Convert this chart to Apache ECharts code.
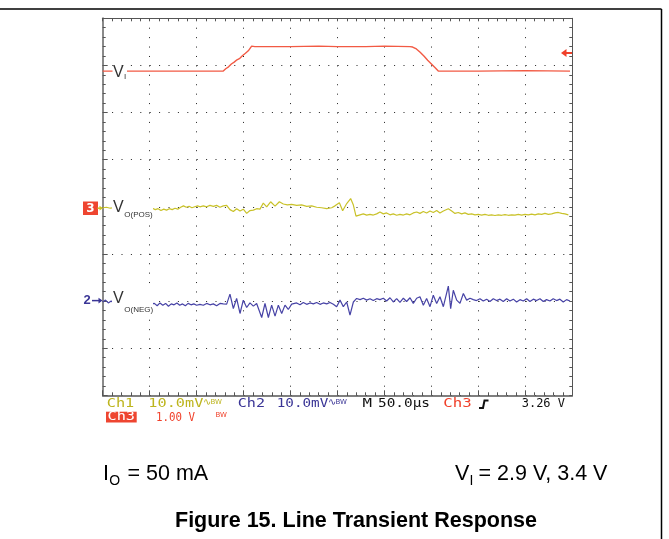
<!DOCTYPE html>
<html><head><meta charset="utf-8">
<script src="https://cdn.jsdelivr.net/npm/echarts@6/dist/echarts.min.js"></script>
<style>html,body{margin:0;padding:0;background:#fff}#c{width:669px;height:539px}</style>
</head><body><div id="c"></div>
<script>
// ---------- data (time in µs, ch3 in V, ch1/ch2 in mV) ----------
const timeRange = [0, 500];          // 10 div x 50 µs
const ch3Range = [-4, 4];            // 1.00 V/div, ground at centre
const ch1Range = [-40, 40];          // 10.0 mV/div
const ch2Range = [-20, 60];          // 10.0 mV/div, ground 2 div above bottom

const redTime  = [0, 60, 61.5, 63, 128.4, 131, 134, 137, 140, 143, 146, 149, 152, 155, 158.6, 162, 200, 230, 250, 280, 300, 327.2, 330, 334, 338, 342, 346, 350, 354, 357.3, 400, 450, 497.6];
const redVolts = [2.88, 2.88, 2.90, 2.88, 2.88, 2.93, 2.97, 3.03, 3.07, 3.12, 3.15, 3.21, 3.26, 3.31, 3.41, 3.40, 3.40, 3.41, 3.40, 3.40, 3.41, 3.40, 3.39, 3.35, 3.28, 3.20, 3.11, 3.03, 2.95, 2.88, 2.88, 2.89, 2.88];

const yellowTime = [0, 4, 8, 12, 20, 30, 40, 50, 53, 56, 59, 62, 65, 68, 71, 74, 77, 80, 83, 86, 89, 92, 95, 98, 101,
  103.6, 107.1, 110.7, 114.2, 117.8, 121.3, 124.9, 128.4, 132.0, 135.5, 139.1, 142.6, 146.2, 149.7, 153.3, 156.8, 160.4, 163.9, 167.5, 171.0, 174.6, 178.8, 183.5, 188.1, 192.3, 196.6, 201.2, 206.5, 211.8, 217.2, 222.5, 227.8, 233.1, 238.5, 243.8, 247.3, 252.0, 255.5, 259.8, 264.0, 266.9, 269.7, 274.0, 277.5, 281.1, 284.6, 288.1, 291.7, 295.2, 298.8, 302.3, 305.9, 309.4, 313.0, 316.5, 320.1, 323.6, 327.2, 330.7, 334.3, 337.8, 341.4, 344.9, 348.5, 352.0, 355.6, 359.1, 362.7, 368.0, 371.6, 375.1, 378.6, 382.2, 385.7, 389.3, 392.8, 396.4, 399.9, 403.5, 407.0, 410.6, 414.1, 417.7, 421.2, 424.8, 428.3, 431.9, 435.4, 439.0, 442.5, 446.1, 449.6, 453.2, 456.7, 460.3, 463.8, 467.4, 470.9, 474.5, 478.0, 481.6, 485.1, 488.7, 492.2, 495.8];
const yellowMv = [-0.2, -0.1, -0.3, -0.2, -0.3, -0.2, -0.35, -0.4, -0.3, -0.6, -0.4, -0.8, -0.5, -0.7, -0.4, -0.6, -0.3, -0.5, -0.1, 0.2, -0.1, 0.1, -0.2, 0.0, 0.2,
  0.0, 0.2, 0.0, 0.3, 0.1, 0.3, -0.1, 0.2, 0.3, -0.6, -1.0, -0.4, -0.9, -0.5, -1.4, -0.8, -0.7, -0.4, -0.5, 0.8, 0.0, 1.07, 0.15, 1.07, 0.6, 0.4, 0.5, 0.3, 0.4, 0.1, 0.2, -0.1, -0.2, -0.4, -0.2, 0.2, 0.86, -0.84, 0.7, 1.75, 0.36, -1.97, -1.7, -1.5, -1.76, -1.6, -1.75, -1.5, -1.1, -1.5, -1.3, -1.7, -1.5, -1.8, -1.6, -1.75, -1.5, -1.7, -1.3, -1.1, -1.4, -1.0, -1.3, -0.9, -1.2, -0.8, -1.3, -0.9, -0.4, -0.9, -1.4, -1.2, -1.5, -1.3, -1.6, -1.5, -1.7, -1.6, -1.75, -1.6, -1.8, -1.7, -1.85, -1.7, -1.8, -1.65, -1.8, -1.7, -1.75, -1.6, -1.75, -1.6, -1.7, -1.55, -1.7, -1.5, -1.6, -1.4, -1.6, -1.5, -1.3, -1.2, -1.4, -1.5, -1.7];

const blueTime = [0, 3, 6, 9, 12, 20, 28, 36, 44, 52, 55, 58, 61, 64, 67, 70, 73, 76, 79, 82, 85, 88, 91, 94, 97, 100, 103.6,
  107.1, 110.7, 114.2, 117.8, 121.3, 124.9, 128.4, 132.0, 135.5, 139.1, 142.6, 146.2, 149.7, 153.3, 156.8, 160.4, 163.9, 169.3, 172.8, 176.4, 179.9, 183.5, 187.0, 190.6, 194.1, 197.6, 201.2,
  206.5, 210.1, 213.6, 217.2, 220.7, 224.3, 227.8, 231.4, 234.9, 238.5, 242.0, 245.6, 249.1, 252.7, 256.2, 259.8, 263.3, 266.9, 270.4, 274.0, 277.5, 281.1, 284.6, 288.1, 291.7, 295.2, 298.8, 302.3, 305.9, 309.4, 313.0, 316.5, 320.1, 323.6, 327.2, 330.7, 334.3, 337.8, 341.4, 344.9, 348.5, 352.0, 355.6, 359.1, 362.7, 368.0, 370.5, 373.3, 376.9, 380.4, 384.0, 387.5, 391.1, 394.6,
  398.0, 401.7, 405.2, 408.8, 412.3, 415.9, 419.4, 423.0, 426.5, 430.1, 433.6, 437.2, 440.7, 444.3, 447.8, 451.4, 454.9, 458.5, 462.0, 465.6, 469.1, 472.6, 476.2, 479.7, 483.3, 486.8, 490.4, 493.9, 497.5];
const blueMv = [-0.2, 0.2, -0.4, 0.0, -0.5, -0.6, -0.4, -0.7, -0.5, -0.6, -0.5, -1.0, -0.4, -0.9, -0.5, -1.1, -0.6, -0.8, -0.4, -0.9, -0.6, -1.0, -0.5, -0.8, -0.6, -0.9, -0.7,
  -0.9, -0.5, -0.8, -0.6, -1.0, -0.5, -0.6, -0.66, 1.46, -1.58, 0.55, -2.64, 0.19, -1.37, -0.38, -1.08, -0.52, -3.49, -0.52, -3.49, -0.87, -3.2, -0.87, -2.64, -0.87, -1.79, -0.66,
  -0.4, -0.8, -0.3, -0.7, -0.4, -0.6, -0.3, -0.7, -0.4, -0.6, -0.3, -0.7, -1.2, 0.2, -1.2, -0.2, -3.0, -0.2, 0.55, 0.3, 0.6, 0.2, 0.5, 0.1, 0.5, 0.3, 0.6, 0.0, 0.7, -0.2, 0.5, -0.3, 0.6, -0.1, 0.7, -0.5, 0.6, 0.9, -0.9, 0.55, -1.2, 1.25, -0.5, 0.9, -1.2, 3.16, -1.6, 2.3, 0.2, -0.5, 1.6, 0.2, 0.6, 0.3,
  0.1, 0.5, 0.0, 0.4, -0.1, 0.5, 0.1, 0.4, -0.1, 0.5, 0.0, 0.4, -0.2, 0.3, 0.0, 0.5, -0.1, 0.4, 0.1, 0.5, -0.1, 0.3, 0.0, 0.5, 0.1, 0.4, -0.2, 0.3, 0.0];

const scopeRow1 = ['Ch1', '10.0mV', 'Ch2', '10.0mV', 'M', '50.0µs', 'Ch3', '3.26 V'];
const scopeRow2 = ['Ch3', '1.00 V'];
const traceLabels = ['V', 'I', 'O(POS)', 'O(NEG)'];
const footerLeft = ['I', 'O', '= 50 mA'];
const footerRight = ['V', 'I', '= 2.9 V, 3.4 V'];
const figureTitle = 'Figure 15. Line Transient Response';

// ---------- styling ----------
const YEL = '#c9c22a', YEL_T = '#bdb51e';
const BLU = '#4743a6', BLU_T = '#3a3596';
const RED = '#f25a44', RED_T = '#f0402a';
const G = {left: 102.7, top: 18.3, width: 469.6, height: 377};

const zip = (a, b) => a.map((v, i) => [v, b[i]]);
const mctx = document.createElement('canvas').getContext('2d');
function fitText(str, left, right, yMid, color, font) {
  mctx.font = font;
  const w = mctx.measureText(str).width;
  return {type: 'text', x: left, y: yMid, scaleX: (right - left) / w, z: 100,
    style: {text: str, font: font, fill: color, textAlign: 'left', textVerticalAlign: 'middle'}};
}
function txt(str, x, y, color, font, align) {
  return {type: 'text', x: x, y: y, z: 100,
    style: {text: str, font: font, fill: color, textAlign: align || 'left', textVerticalAlign: 'middle'}};
}
function rect(x, y, w, h, fill) {
  return {type: 'rect', z: 99, shape: {x: x, y: y, width: w, height: h}, style: {fill: fill}};
}
function line(x1, y1, x2, y2, color, w) {
  return {type: 'line', z: 100, shape: {x1: x1, y1: y1, x2: x2, y2: y2}, style: {stroke: color, lineWidth: w}};
}
function poly(points, color) {
  return {type: 'polygon', z: 100, shape: {points: points}, style: {fill: color}};
}

const dotted = (gap) => ({show: true, lineStyle: {color: '#222', width: 1, type: [1, gap]}});
// frame edge with fine (1/5 division) inside ticks
const edgeAxis = (min, max, interval, pos, color, width) => ({
  type: 'value', min: min, max: max, interval: interval, position: pos,
  axisLine: {show: true, onZero: false, lineStyle: {color: color, width: width}},
  axisTick: {show: true, inside: true, length: 3, lineStyle: {color: '#555'}},
  axisLabel: {show: false}, splitLine: {show: false}
});
// major divisions: dotted graticule + slightly longer inside ticks
const divAxis = (min, max, interval, pos, gap) => ({
  type: 'value', min: min, max: max, interval: interval, position: pos,
  axisLine: {show: false, onZero: false},
  axisTick: {show: true, inside: true, length: 5, lineStyle: {color: '#555'}},
  axisLabel: {show: false}, splitLine: dotted(gap)
});

const scopeFont = "13px 'DejaVu Sans Mono'";
const bwFont = "7px 'DejaVu Sans'";

const graphics = [
  // page frame
  line(0, 9, 661.5, 9, '#000', 1.5),
  line(661.5, 9, 661.5, 539, '#000', 1.5),
  // trace labels
  rect(112.5, 65.5, 14.5, 14, '#fff'),
  txt(traceLabels[0], 113, 72.5, '#333', "16px 'Liberation Sans'"),
  txt(traceLabels[1], 124, 76.5, '#333', "8px 'Liberation Sans'"),
  rect(112, 199, 41, 19, '#fff'),
  txt(traceLabels[0], 113, 208, '#333', "16px 'Liberation Sans'"),
  txt(traceLabels[2], 124.3, 214.5, '#333', "8px 'Liberation Sans'"),
  rect(112, 290, 41, 22, '#fff'),
  txt(traceLabels[0], 113, 299, '#333', "16px 'Liberation Sans'"),
  txt(traceLabels[3], 124.3, 309.3, '#333', "8px 'Liberation Sans'"),
  // channel markers
  rect(83, 201.5, 15, 13.5, '#ee4530'),
  txt('3', 90.5, 208.5, '#fff', "bold 12px 'DejaVu Sans'", 'center'),
  line(97.5, 208.2, 102, 208.2, YEL, 1.5),
  poly([[103, 208.2], [99.5, 205.8], [99.5, 210.6]], YEL),
  txt('2', 83.5, 300.5, BLU_T, "bold 13px 'Liberation Sans'"),
  line(92, 300.6, 101, 300.6, BLU_T, 1.5),
  poly([[102.5, 300.6], [98.5, 297.8], [98.5, 303.4]], BLU_T),
  // trigger level arrow
  poly([[561, 53], [566.5, 49], [566.5, 57]], RED_T),
  line(566, 53, 572, 53, RED_T, 2),
  // scope readout row 1
  fitText(scopeRow1[0], 106.7, 134.3, 404, YEL_T, scopeFont),
  fitText(scopeRow1[1], 148.3, 203.3, 404, YEL_T, scopeFont),
  txt('∿', 203, 402.5, YEL_T, "10px 'DejaVu Sans'"),
  txt('BW', 210.5, 402, YEL_T, bwFont),
  fitText(scopeRow1[2], 237.7, 265, 404, BLU_T, scopeFont),
  fitText(scopeRow1[3], 276.7, 328.3, 404, BLU_T, scopeFont),
  txt('∿', 328, 402.5, BLU_T, "10px 'DejaVu Sans'"),
  txt('BW', 335.5, 402, BLU_T, bwFont),
  fitText(scopeRow1[4], 362.5, 372, 404, '#111', scopeFont),
  fitText(scopeRow1[5], 378, 430, 404, '#111', scopeFont),
  fitText(scopeRow1[6], 443.3, 471.7, 404, RED_T, scopeFont),
  {type: 'polyline', z: 100, shape: {points: [[479, 408], [483, 408], [484.5, 400.5], [488.5, 400.5]]}, style: {stroke: '#111', lineWidth: 2, fill: null}},
  fitText(scopeRow1[7], 521.7, 565, 404, '#111', scopeFont),
  // scope readout row 2
  rect(106, 411.7, 30.7, 10.8, '#ee4530'),
  fitText(scopeRow2[0], 107.5, 135, 417.3, '#fff', "12px 'DejaVu Sans Mono'"),
  fitText(scopeRow2[1], 156, 195, 417.8, RED_T, scopeFont),
  txt('BW', 215.5, 415.5, RED_T, bwFont),
  // footer
  txt(footerLeft[0], 103, 474, '#000', "21.5px 'Liberation Sans'"),
  txt(footerLeft[1], 109.3, 481.5, '#000', "14px 'Liberation Sans'"),
  txt(footerLeft[2], 127.5, 474, '#000', "21.5px 'Liberation Sans'"),
  txt(footerRight[0], 455, 474, '#000', "21.5px 'Liberation Sans'"),
  txt(footerRight[1], 469.5, 481.5, '#000', "14px 'Liberation Sans'"),
  txt(footerRight[2], 478.5, 474, '#000', "21.5px 'Liberation Sans'"),
  txt(figureTitle, 356, 521.5, '#000', "bold 21.5px 'Liberation Sans'", 'center')
];

const chart = echarts.init(document.getElementById('c'), null, {renderer: 'canvas'});
chart.setOption({
  animation: false,
  backgroundColor: '#fff',
  grid: G,
  xAxis: [
    edgeAxis(timeRange[0], timeRange[1], 10, 'bottom', '#555', 1.5),
    edgeAxis(timeRange[0], timeRange[1], 10, 'top', '#555', 1),
    divAxis(timeRange[0], timeRange[1], 50, 'bottom', 8.42)
  ],
  yAxis: [
    edgeAxis(0, 8, 0.2, 'left', '#8a8a8a', 2),
    edgeAxis(0, 8, 0.2, 'right', '#555', 1),
    divAxis(0, 8, 1, 'left', 8.4),
    {type: 'value', min: ch3Range[0], max: ch3Range[1], show: false},
    {type: 'value', min: ch1Range[0], max: ch1Range[1], show: false},
    {type: 'value', min: ch2Range[0], max: ch2Range[1], show: false}
  ],
  series: [
    {type: 'line', name: 'Ch3', xAxisIndex: 0, yAxisIndex: 3, data: zip(redTime, redVolts), showSymbol: false, lineStyle: {color: RED, width: 1.4}, z: 5},
    {type: 'line', name: 'Ch1', xAxisIndex: 0, yAxisIndex: 4, data: zip(yellowTime, yellowMv), showSymbol: false, lineStyle: {color: YEL, width: 1.2}, z: 4},
    {type: 'line', name: 'Ch2', xAxisIndex: 0, yAxisIndex: 5, data: zip(blueTime, blueMv), showSymbol: false, lineStyle: {color: BLU, width: 1.2}, z: 4}
  ],
  graphic: {elements: graphics}
});
</script>
</body></html>
